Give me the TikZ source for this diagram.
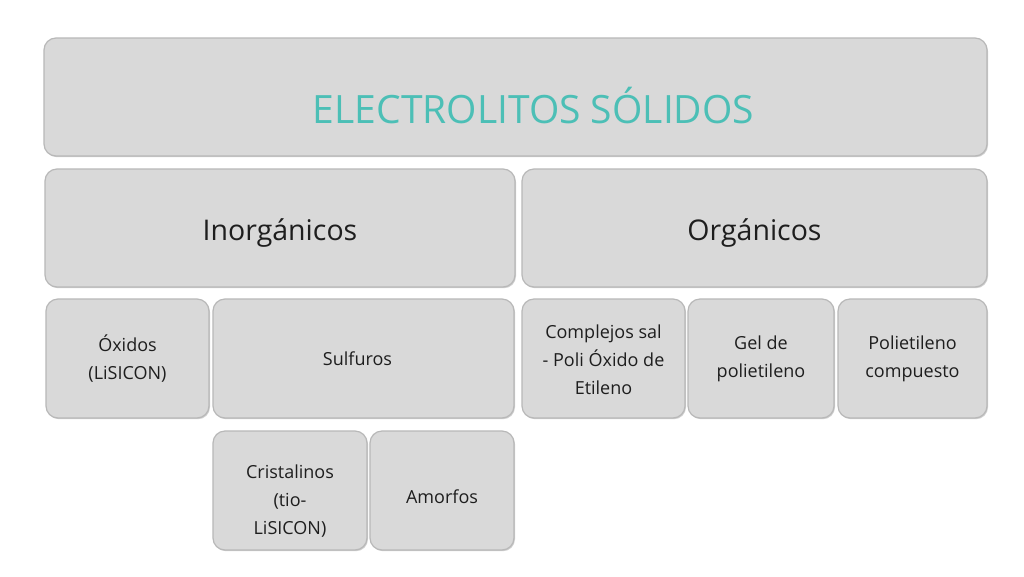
\documentclass[tikz,border=0pt]{standalone}
\usepackage{fontspec}
\setmainfont{Open Sans}
\usetikzlibrary{shadows}
\definecolor{boxfill}{HTML}{D9D9D9}
\definecolor{boxline}{HTML}{B8B8B8}
\definecolor{teal}{HTML}{4CBFB6}
\definecolor{txt}{HTML}{1E1E1E}
\newcommand{\upstrut}[1]{\rule{0pt}{#1}}
\begin{document}
\begin{tikzpicture}[x=1pt,y=-1pt,
  box/.style={draw=boxline, line width=1.2pt, fill=boxfill, rounded corners=12pt,
    inner sep=0pt, align=center, text=txt,
    drop shadow={shadow xshift=1pt, shadow yshift=-1.2pt, fill=black!30, opacity=0.6}},
  small/.style={font=\fontsize{18}{28}\selectfont},
  mid/.style={font=\fontsize{28.5}{32}\selectfont},
  big/.style={font=\fontsize{39}{44}\selectfont, text=teal, inner sep=0pt}]
\useasboundingbox (0,0) rectangle (1024,576);
\fill[white] (0,0) rectangle (1024,576);
% title
\node[box, minimum width=943, minimum height=118] (title) at (515.5,97) {};
\node[big] (titletext) at (533.5,106) {ELECTROLITOS SÓLIDOS};
% second row
\node[box, mid, minimum width=470, minimum height=118] (inorg) at (280,228) {\upstrut{32pt}Inorgánicos};
\node[box, mid, minimum width=465, minimum height=118] (org) at (754.5,228) {\upstrut{32pt}Orgánicos};
% third row
\node[box, small, minimum width=163, minimum height=119] (oxidos) at (127.5,358.5) {Óxidos\\(LiSICON)};
\node[box, small, minimum width=301, minimum height=119] (sulfuros) at (363.5,358.5) {\hspace*{-12pt}Sulfuros};
\node[box, small, minimum width=163, minimum height=119] (complejos) at (603.5,358.5) {\upstrut{17pt}Complejos sal\\- Poli Óxido de\\Etileno};
\node[box, small, minimum width=146, minimum height=119] (gel) at (761,358.5) {Gel de\\polietileno};
\node[box, small, minimum width=149, minimum height=119] (polic) at (912.5,358.5) {Polietileno\\compuesto};
% fourth row
\node[box, small, minimum width=154, minimum height=119] (crist) at (290,490.5) {\upstrut{35pt}Cristalinos\\(tio-\\LiSICON)};
\node[box, small, minimum width=144, minimum height=119] (amorfos) at (442,490.5) {\upstrut{27pt}Amorfos};
\end{tikzpicture}
\end{document}
